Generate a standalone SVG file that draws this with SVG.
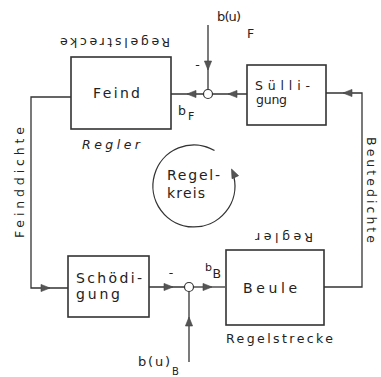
<svg xmlns="http://www.w3.org/2000/svg" xmlns:xlink="http://www.w3.org/1999/xlink" width="381" height="377" viewBox="0 0 381 377">
<style>
.box{fill:#fff;stroke:#333;stroke-width:1.6}
.ln{fill:none;stroke:#333;stroke-width:1.3}
.ah{fill:#555;stroke:#444;stroke-width:0.6}
.sum{fill:#fff;stroke:#333;stroke-width:1.2}
text{font-family:"DejaVu Sans","Liberation Sans",sans-serif;fill:#222}
.t14{font-size:14px}
.t13{font-size:13px}
.t12{font-size:12.5px}
.t11{font-size:11px}
</style>
<defs>
<path id="ah" d="M0,0 L-9,-3.6 L-9,3.6 Z"/>
</defs>
<rect width="381" height="377" fill="#fff"/>

<g id="connectors">
<polyline class="ln" points="71,97 31,97 31,288 68,288"/>
<line class="ln" x1="149" y1="287" x2="184.5" y2="287"/>
<line class="ln" x1="193.5" y1="287" x2="225" y2="287"/>
<line class="ln" x1="189" y1="362" x2="189" y2="291.5"/>
<polyline class="ln" points="324,287 362,287 362,93 326,93"/>
<line class="ln" x1="247" y1="94" x2="212.5" y2="94"/>
<line class="ln" x1="203.5" y1="94" x2="171" y2="94"/>
<line class="ln" x1="208" y1="25" x2="208" y2="89.5"/>
<path class="ln" d="M214.5,150.5 A41,41 0 1 0 233.9,176.8"/>
<use xlink:href="#ah" class="ah" transform="translate(50,288)"/>
<use xlink:href="#ah" class="ah" transform="translate(173,287)"/>
<use xlink:href="#ah" class="ah" transform="translate(212,287)"/>
<use xlink:href="#ah" class="ah" transform="translate(189,317) rotate(-90)"/>
<use xlink:href="#ah" class="ah" transform="translate(343,93) rotate(180)"/>
<use xlink:href="#ah" class="ah" transform="translate(228,94) rotate(180)"/>
<use xlink:href="#ah" class="ah" transform="translate(187,94) rotate(180)"/>
<use xlink:href="#ah" class="ah" transform="translate(208,70) rotate(90)"/>
<use xlink:href="#ah" class="ah" transform="translate(231.5,169) rotate(-115)"/>
</g>

<g id="feind">
<rect class="box" x="71" y="57" width="100" height="72"/>
<text class="t14" x="116.5" y="98" text-anchor="middle" textLength="47" lengthAdjust="spacing">Feind</text>
<text class="t12" transform="translate(115,37.5) rotate(180)" text-anchor="middle" textLength="110" lengthAdjust="spacing">Regelstrecke</text>
<text class="t12" x="111" y="149" text-anchor="middle" textLength="58" lengthAdjust="spacing" font-style="italic">Regler</text>
</g>

<g id="saettigung">
<rect class="box" x="247" y="65" width="79" height="60"/>
<text class="t12" x="255" y="90" textLength="55" lengthAdjust="spacing">Sülli-</text>
<text class="t12" x="256" y="104" textLength="31" lengthAdjust="spacing">gung</text>
</g>

<g id="schaedigung">
<rect class="box" x="68" y="256" width="81" height="61"/>
<text class="t14" x="76" y="283" textLength="66" lengthAdjust="spacing">Schödi-</text>
<text class="t14" x="76" y="299" textLength="44" lengthAdjust="spacing">gung</text>
</g>

<g id="beute">
<rect class="box" x="226" y="250" width="98" height="75"/>
<text class="t14" x="270" y="293" text-anchor="middle" textLength="54" lengthAdjust="spacing">Beule</text>
<text class="t12" transform="translate(284,232.5) rotate(180)" text-anchor="middle" textLength="58" lengthAdjust="spacing">Regler</text>
<text class="t12" x="279.5" y="343" text-anchor="middle" textLength="107" lengthAdjust="spacing">Regelstrecke</text>
</g>

<g id="sum-f">
<circle class="sum" cx="208" cy="94" r="4.5"/>
<text class="t12" x="197.5" y="69" text-anchor="middle">-</text>
<text class="t13" x="217" y="21" textLength="24" lengthAdjust="spacing">b(u)</text>
<text class="t12" x="247" y="38">F</text>
<text class="t12" x="178" y="115">b</text>
<text class="t11" x="188" y="120">F</text>
</g>

<g id="sum-b">
<circle class="sum" cx="189" cy="287" r="4.5"/>
<text class="t12" x="171" y="277" text-anchor="middle">-</text>
<text class="t13" x="138" y="366" textLength="32" lengthAdjust="spacing">b(u)</text>
<text style="font-size:10px" x="172" y="375">B</text>
<text class="t11" x="205" y="271">b</text>
<text class="t12" x="212.5" y="278">B</text>
</g>

<g id="regelkreis">
<text class="t14" x="167" y="180" textLength="53" lengthAdjust="spacing">Regel-</text>
<text class="t14" x="167" y="198" textLength="38" lengthAdjust="spacing">kreis</text>
</g>

<g id="labels">
<text class="t12" transform="translate(24,182.5) rotate(-90)" text-anchor="middle" textLength="111" lengthAdjust="spacing">Feinddichte</text>
<text class="t12" transform="translate(367,190) rotate(90)" text-anchor="middle" textLength="106" lengthAdjust="spacing">Beutedichte</text>
</g>
</svg>
